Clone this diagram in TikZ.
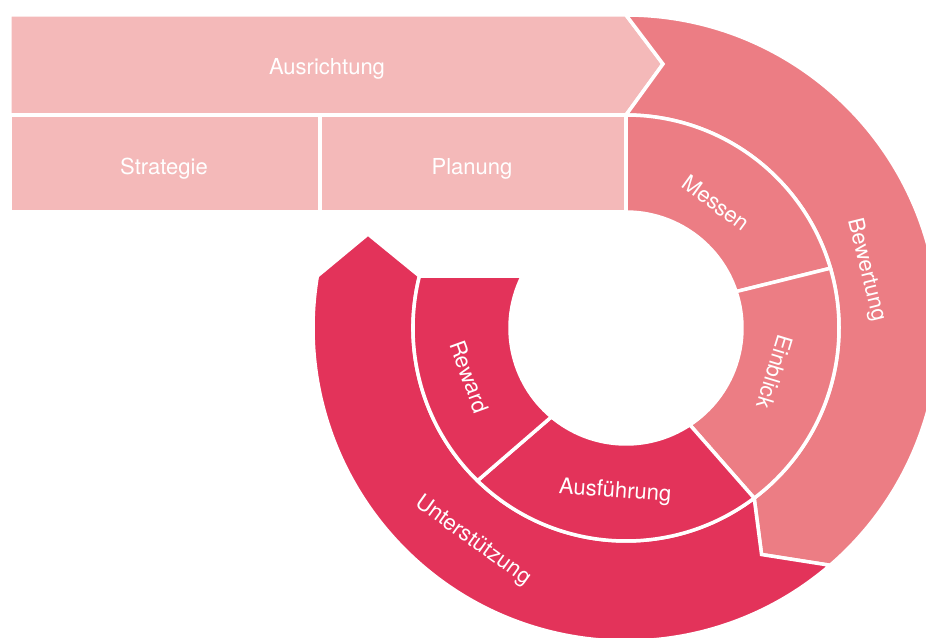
\documentclass[tikz,border=0pt]{standalone}
\usepackage{fontspec}
\setmainfont{TeX Gyre Heros}
\definecolor{lightrose}{HTML}{F4B9B9}
\definecolor{midrose}{HTML}{EC7D84}
\definecolor{darkrose}{HTML}{E3335A}

\begin{document}
\begin{tikzpicture}[x=0.5pt, y=0.5pt,
    seg/.style={draw=white, line width=1.75pt, line join=miter},
    lbl/.style={text=white, inner sep=0pt, font=\fontsize{11}{13}\selectfont}
]
    \useasboundingbox (-626,-309) rectangle (300,328);
    \clip (-626,-309) rectangle (300,328);

    % top bar and its two boxes
    \fill[seg, fill=lightrose] (-616,313) -- (0,313) -- (37,264) -- (0,213) -- (-616,213) -- cycle;
    \fill[seg, fill=lightrose] (-616,213) rectangle (-306,116);
    \fill[seg, fill=lightrose] (-306,213) rectangle (0,116);

    % outer ring
    \fill[seg, fill=midrose] (90:313) arc[start angle=90, end angle=-49.3, radius=313]
        -- (-59.1:264) -- (-53:213) arc[start angle=-53, end angle=90, radius=213]
        -- (37,264) -- cycle;
    \fill[seg, fill=darkrose] (-53:213) -- (-59.1:264) -- (-49.3:313)
        arc[start angle=-49.3, end angle=-189.56, radius=313] -- (-258,94)
        -- (-194.13:213) arc[start angle=-194.13, end angle=-53, radius=213] -- cycle;

    % inner ring
    \fill[seg, fill=midrose] (90:116) -- (90:213) arc[start angle=90, end angle=16.3, radius=213]
        -- (18.3:116) arc[start angle=18.3, end angle=90, radius=116] -- cycle;
    \fill[seg, fill=midrose] (18.3:116) -- (16.3:213) arc[start angle=16.3, end angle=-53, radius=213]
        -- (-56.6:116) arc[start angle=-56.6, end angle=18.3, radius=116] -- cycle;
    \fill[seg, fill=darkrose] (-56.6:116) -- (-53:213) arc[start angle=-53, end angle=-134.2, radius=213]
        -- (-130:116) arc[start angle=-130, end angle=-56.6, radius=116] -- cycle;
    \fill[seg, fill=darkrose] (-130:116) -- (-134.2:213) arc[start angle=-134.2, end angle=-194.13, radius=213]
        -- (-206.63:116) arc[start angle=-206.63, end angle=-130, radius=116] -- cycle;

    \node[lbl] (ausr)  at (-299,259) {Ausrichtung};
    \node[lbl] (strat) at (-462,159) {Strategie};
    \node[lbl] (plan)  at (-154,159) {Planung};
    \node[lbl, rotate=-36]   (mess)  at (54.2:154)   {Messen};
    \node[lbl, rotate=-107]  (einb)  at (-16.5:155)  {Einblick};
    \node[lbl, rotate=-76]   (bew)   at (13.6:247)   {Bewertung};
    \node[lbl, rotate=-70]   (rew)   at (197.3:164)  {Reward};
    \node[lbl, rotate=-4]    (ausf)  at (-93.8:164)  {Ausführung};
    \node[lbl, rotate=-35.7] (unter) at (-125.7:262) {Unterstützung};
\end{tikzpicture}
\end{document}
